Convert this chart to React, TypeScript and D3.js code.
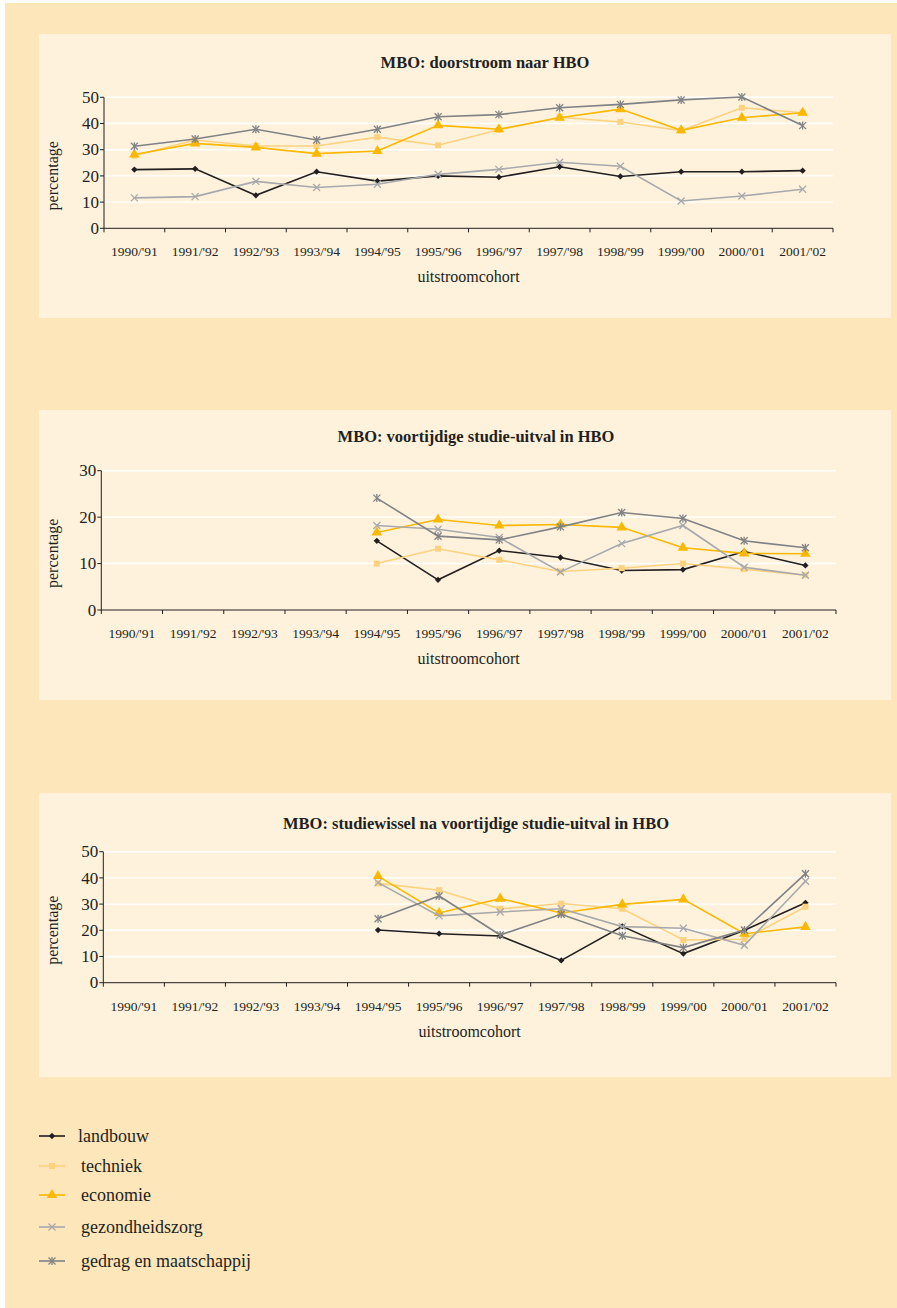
import * as d3 from 'd3';

const categories = ["1990/'91", "1991/'92", "1992/'93", "1993/'94", "1994/'95", "1995/'96", "1996/'97", "1997/'98", "1998/'99", "1999/'00", "2000/'01", "2001/'02"];

const seriesNames = ['landbouw', 'techniek', 'economie', 'gezondheidszorg', 'gedrag en maatschappij'];
const seriesColors = ['#231f20', '#fdd27f', '#fbb800', '#a7a9ac', '#808285'];
const seriesMarkers = ['diamond', 'square', 'triangle', 'cross', 'star'];

// MBO: doorstroom naar HBO
const doorstroomLandbouw = [22.4, 22.7, 12.6, 21.6, 18.0, 20.0, 19.5, 23.5, 19.8, 21.6, 21.6, 22.0];
const doorstroomTechniek = [27.7, 33.7, 31.4, 31.4, 34.8, 31.7, 37.6, 42.4, 40.6, 37.3, 46.0, 44.1];
const doorstroomEconomie = [28.2, 32.4, 30.9, 28.5, 29.5, 39.3, 37.8, 42.2, 45.5, 37.4, 42.2, 44.1];
const doorstroomGezondheid = [11.6, 12.1, 17.9, 15.6, 16.8, 20.6, 22.5, 25.2, 23.7, 10.4, 12.3, 14.9];
const doorstroomGedrag = [31.3, 34.1, 37.8, 33.7, 37.8, 42.6, 43.4, 46.0, 47.3, 49.0, 50.1, 39.2];

// MBO: voortijdige studie-uitval in HBO
const uitvalLandbouw = [null, null, null, null, 14.9, 6.5, 12.8, 11.3, 8.5, 8.7, 12.6, 9.6];
const uitvalTechniek = [null, null, null, null, 10.0, 13.2, 10.8, 8.3, 9.0, 10.0, 8.8, 7.5];
const uitvalEconomie = [null, null, null, null, 16.7, 19.5, 18.2, 18.4, 17.8, 13.4, 12.2, 12.1];
const uitvalGezondheid = [null, null, null, null, 18.2, 17.4, 15.6, 8.2, 14.3, 18.2, 9.2, 7.5];
const uitvalGedrag = [null, null, null, null, 24.1, 15.9, 15.1, 17.9, 21.0, 19.7, 14.9, 13.4];

// MBO: studiewissel na voortijdige studie-uitval in HBO
const wisselLandbouw = [null, null, null, null, 20.1, 18.7, 17.8, 8.5, 21.5, 11.1, 20.0, 30.5];
const wisselTechniek = [null, null, null, null, 37.9, 35.3, 28.2, 30.2, 28.2, 16.3, 16.6, 29.0];
const wisselEconomie = [null, null, null, null, 40.7, 26.6, 32.1, 26.6, 29.9, 31.8, 18.7, 21.3];
const wisselGezondheid = [null, null, null, null, 38.2, 25.5, 27.0, 28.2, 21.4, 20.8, 14.3, 38.7];
const wisselGedrag = [null, null, null, null, 24.4, 33.1, 18.2, 26.1, 17.9, 13.4, 20.1, 41.6];

const doorstroomTicks = [0, 10, 20, 30, 40, 50];
const uitvalTicks = [0, 10, 20, 30];
const wisselTicks = [0, 10, 20, 30, 40, 50];

const FONT = "'Liberation Serif', 'DejaVu Serif', serif";
const INK = '#231f20';

function Marker({ type, color, x, y }: { type: string; color: string; x: number; y: number }) {
    if (type === 'diamond') {
        // square turned 45 degrees
        return <path d={d3.symbol(d3.symbolSquare, 20)()!} transform={`translate(${x},${y}) rotate(45)`} fill={color} />;
    }
    if (type === 'square') {
        return <path d={d3.symbol(d3.symbolSquare, 36)()!} transform={`translate(${x},${y})`} fill={color} />;
    }
    if (type === 'triangle') {
        return <path d={d3.symbol(d3.symbolTriangle, 48)()!} transform={`translate(${x},${y})`} fill={color} />;
    }
    const r = 3.5;
    return (
        <g transform={`translate(${x},${y})`} stroke={color} strokeWidth={1.3}>
            <line x1={-r} y1={-r} x2={r} y2={r} />
            <line x1={-r} y1={r} x2={r} y2={-r} />
            {type === 'star' && <line x1={0} y1={-r - 0.5} x2={0} y2={r + 0.5} />}
        </g>
    );
}

interface ChartProps {
    panelTop: number;
    panelHeight: number;
    title: string;
    titleX: number;
    titleY: number;
    x0: number;
    x1: number;
    yBottom: number;
    yTop: number;
    ticks: number[];
    series: (number | null)[][];
}

function LineChart({ panelTop, panelHeight, title, titleX, titleY, x0, x1, yBottom, yTop, ticks, series }: ChartProps) {
    const x = d3.scaleBand<string>().domain(categories).range([x0, x1]);
    const y = d3.scaleLinear().domain([0, ticks[ticks.length - 1]]).range([yBottom, yTop]);
    const cx = (i: number) => x(categories[i])! + x.bandwidth() / 2;

    const line = d3.line<number | null>()
        .defined(d => d != null)
        .x((_, i) => cx(i))
        .y(d => y(d as number));

    const boundaries = categories.map(c => x(c)!).concat([x1]);

    return (
        <g>
            <rect x={39} y={panelTop} width={852} height={panelHeight} fill="#fef2dc" />
            <text x={titleX} y={titleY} textAnchor="middle" style={{ fontFamily: FONT, fontWeight: 'bold', fontSize: 16.5 }} fill={INK}>{title}</text>

            {ticks.filter(t => t > 0).map(t => (
                <line key={t} x1={x0} x2={x1} y1={y(t)} y2={y(t)} stroke="#ffffff" strokeWidth={1.4} />
            ))}

            <line x1={x0} x2={x0} y1={yBottom} y2={yTop} stroke={INK} strokeWidth={1} />
            <line x1={x0} x2={x1} y1={yBottom} y2={yBottom} stroke={INK} strokeWidth={1} />
            {ticks.map(t => (
                <g key={t}>
                    <line x1={x0 - 4} x2={x0} y1={y(t)} y2={y(t)} stroke={INK} strokeWidth={1} />
                    <text x={x0 - 5} y={y(t)} dy="0.34em" textAnchor="end" style={{ fontFamily: FONT, fontSize: 17 }} fill={INK}>{t}</text>
                </g>
            ))}
            {boundaries.map((b, i) => (
                <line key={i} x1={b} x2={b} y1={yBottom} y2={yBottom + 4} stroke={INK} strokeWidth={1} />
            ))}
            {categories.map((c, i) => (
                <text key={c} x={cx(i)} y={yBottom + 28} textAnchor="middle" style={{ fontFamily: FONT, fontSize: 13.5 }} fill={INK}>{c}</text>
            ))}
            <text x={(x0 + x1) / 2} y={yBottom + 54} textAnchor="middle" style={{ fontFamily: FONT, fontSize: 16 }} fill={INK}>uitstroomcohort</text>
            <text transform={`translate(58,${(yBottom + yTop) / 2 + 13}) rotate(-90)`} textAnchor="middle" style={{ fontFamily: FONT, fontSize: 16 }} fill={INK}>percentage</text>

            {series.map((s, si) => (
                <g key={si}>
                    <path d={line(s) || ''} fill="none" stroke={seriesColors[si]} strokeWidth={1.6} />
                    {s.map((v, i) => v == null ? null : (
                        <Marker key={i} type={seriesMarkers[si]} color={seriesColors[si]} x={cx(i)} y={y(v)} />
                    ))}
                </g>
            ))}
        </g>
    );
}

export default function App() {
    const legendY = [1136, 1166, 1195, 1227, 1261];
    return (
        <svg width={897} height={1308} viewBox="0 0 897 1308" style={{ position: 'absolute', left: 0, top: 0, display: 'block', fontFamily: FONT }}>
            <rect x={0} y={0} width={897} height={1308} fill="#ffffff" />
            <rect x={5} y={3} width={892} height={1305} fill="#fde6b9" />

            <LineChart
                panelTop={34} panelHeight={284}
                title="MBO: doorstroom naar HBO" titleX={485} titleY={68}
                x0={104} x1={833} yBottom={228.3} yTop={97.3}
                ticks={doorstroomTicks}
                series={[doorstroomLandbouw, doorstroomTechniek, doorstroomEconomie, doorstroomGezondheid, doorstroomGedrag]}
            />
            <LineChart
                panelTop={410} panelHeight={290}
                title="MBO: voortijdige studie-uitval in HBO" titleX={476} titleY={442}
                x0={101.3} x1={836} yBottom={610} yTop={470.7}
                ticks={uitvalTicks}
                series={[uitvalLandbouw, uitvalTechniek, uitvalEconomie, uitvalGezondheid, uitvalGedrag]}
            />
            <LineChart
                panelTop={793} panelHeight={284}
                title="MBO: studiewissel na voortijdige studie-uitval in HBO" titleX={476} titleY={829}
                x0={103.3} x1={836} yBottom={982.7} yTop={851.7}
                ticks={wisselTicks}
                series={[wisselLandbouw, wisselTechniek, wisselEconomie, wisselGezondheid, wisselGedrag]}
            />

            {seriesNames.map((name, i) => (
                <g key={name}>
                    <line x1={39} x2={65} y1={legendY[i]} y2={legendY[i]} stroke={seriesColors[i]} strokeWidth={1.6} />
                    <Marker type={seriesMarkers[i]} color={seriesColors[i]} x={52} y={legendY[i]} />
                    <text x={i === 0 ? 78 : 81} y={legendY[i]} dy="0.32em" style={{ fontFamily: FONT, fontSize: 18 }} fill={INK}>{name}</text>
                </g>
            ))}
        </svg>
    );
}
